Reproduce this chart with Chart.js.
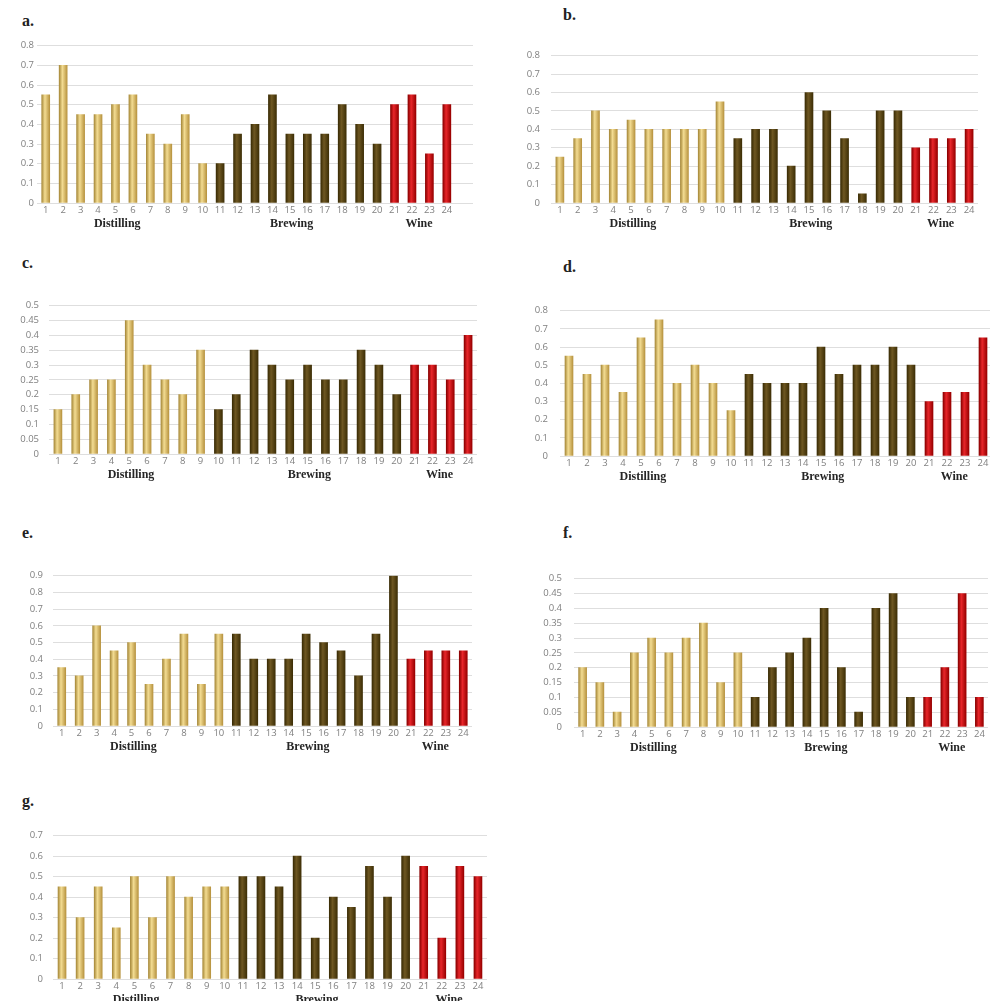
<!DOCTYPE html>
<html>
<head>
<meta charset="utf-8">
<script src="https://cdn.jsdelivr.net/npm/chart.js@4/dist/chart.umd.min.js"></script>
<style>
  html, body { margin:0; padding:0; background:#fff; }
  #page { position:relative; width:990px; height:1001px; overflow:hidden; background:#fff; }
  .tag { position:absolute; font-family:"Liberation Serif", "DejaVu Serif", serif; font-weight:bold; font-size:16px; line-height:16px; color:#222; }
  .box { position:absolute; }
</style>
</head>
<body>
<div id="page"></div>
<script>
// bar categories (1..24) and the three groups
const barLabels = ['1','2','3','4','5','6','7','8','9','10','11','12','13','14','15','16','17','18','19','20','21','22','23','24'];
const groupNames = ['Distilling', 'Brewing', 'Wine'];

// values
const valuesA = [0.55,0.7,0.45,0.45,0.5,0.55,0.35,0.3,0.45,0.2, 0.2,0.35,0.4,0.55,0.35,0.35,0.35,0.5,0.4,0.3, 0.5,0.55,0.25,0.5];
const valuesB = [0.25,0.35,0.5,0.4,0.45,0.4,0.4,0.4,0.4,0.55, 0.35,0.4,0.4,0.2,0.6,0.5,0.35,0.05,0.5,0.5, 0.3,0.35,0.35,0.4];
const valuesC = [0.15,0.2,0.25,0.25,0.45,0.3,0.25,0.2,0.35,0.15, 0.2,0.35,0.3,0.25,0.3,0.25,0.25,0.35,0.3,0.2, 0.3,0.3,0.25,0.4];
const valuesD = [0.55,0.45,0.5,0.35,0.65,0.75,0.4,0.5,0.4,0.25, 0.45,0.4,0.4,0.4,0.6,0.45,0.5,0.5,0.6,0.5, 0.3,0.35,0.35,0.65];
const valuesE = [0.35,0.3,0.6,0.45,0.5,0.25,0.4,0.55,0.25,0.55, 0.55,0.4,0.4,0.4,0.55,0.5,0.45,0.3,0.55,0.9, 0.4,0.45,0.45,0.45];
const valuesF = [0.2,0.15,0.05,0.25,0.3,0.25,0.3,0.35,0.15,0.25, 0.1,0.2,0.25,0.3,0.4,0.2,0.05,0.4,0.45,0.1, 0.1,0.2,0.45,0.1];
const valuesG = [0.45,0.3,0.45,0.25,0.5,0.3,0.5,0.4,0.45,0.45, 0.5,0.5,0.45,0.6,0.2,0.4,0.35,0.55,0.4,0.6, 0.55,0.2,0.55,0.5];

// axis tops and steps per panel
const panelNames = ['a.','b.','c.','d.','e.','f.','g.'];
const yMax  = [0.8, 0.8, 0.5, 0.8, 0.9, 0.5, 0.7];
const yStep = [0.1, 0.1, 0.05, 0.1, 0.1, 0.05, 0.1];
// last bar (1-based) drawn in the distilling colour
const distillLast = [10, 10, 9, 10, 10, 10, 10];
const brewLast = 20;

const allValues = [valuesA, valuesB, valuesC, valuesD, valuesE, valuesF, valuesG];

// layout: plot area box in page px, label position, y label gap, extra empty slots
const layout = [
  { l:37,  r:473, t:45,  b:203, tagX:22,  tagY:13,  gap:3,  extra:1 },
  { l:551, r:978, t:47,  b:203, tagX:563, tagY:7,   gap:11, extra:0 },
  { l:49,  r:477, t:298, b:454, tagX:22,  tagY:255, gap:10, extra:0 },
  { l:560, r:992, t:301, b:456, tagX:563, tagY:259, gap:12, extra:0 },
  { l:53,  r:472, t:568, b:726, tagX:22,  tagY:525, gap:10, extra:0 },
  { l:574, r:988, t:569, b:727, tagX:563, tagY:525, gap:12, extra:0 },
  { l:53,  r:487, t:828, b:979, tagX:22,  tagY:793, gap:10, extra:0 }
];
const groupPos = [4.1, 14.1, 21.4];

const Y_W = 44, PAD_T = 8, X_H = 30, BAR_W = 8;

const palette = {
  gold:  { edge:'#a88a3a', light:'#f3dc92', dark:'#b89440' },
  brown: { edge:'#3a2c05', light:'#6e5722', dark:'#3e2f06' },
  red:   { edge:'#8a0000', light:'#e8262a', dark:'#980000' }
};

function colourFor(p, i){
  if(i < distillLast[p]) return palette.gold;
  if(i < brewLast) return palette.brown;
  return palette.red;
}

function barFill(p){
  return (ctx) => {
    const chart = ctx.chart;
    const x = chart.scales.x;
    const c = colourFor(p, ctx.dataIndex);
    if(!x || !chart.chartArea) return c.light;
    const cx = x.getPixelForValue(ctx.dataIndex);
    const g = chart.ctx.createLinearGradient(cx - BAR_W/2, 0, cx + BAR_W/2, 0);
    g.addColorStop(0, c.edge);
    g.addColorStop(0.4, c.light);
    g.addColorStop(1, c.dark);
    return g;
  };
}

const groupLabels = {
  id:'groupLabels',
  afterDraw(chart){
    const x = chart.scales.x;
    const ctx = chart.ctx;
    ctx.save();
    ctx.font = 'bold 12px "Liberation Serif", "DejaVu Serif", serif';
    ctx.fillStyle = '#262626';
    ctx.textAlign = 'center';
    ctx.textBaseline = 'middle';
    groupNames.forEach((name, k) => {
      ctx.fillText(name, x.getPixelForValue(groupPos[k]), chart.chartArea.bottom + 21);
    });
    ctx.restore();
  }
};

const page = document.getElementById('page');

allValues.forEach((vals, p) => {
  const L = layout[p];
  const tag = document.createElement('div');
  tag.className = 'tag';
  tag.textContent = panelNames[p];
  tag.style.left = L.tagX + 'px';
  tag.style.top = L.tagY + 'px';
  page.appendChild(tag);

  const w = Y_W + (L.r - L.l);
  const h = PAD_T + (L.b - L.t) + X_H;
  const box = document.createElement('div');
  box.className = 'box';
  box.style.left = (L.l - Y_W) + 'px';
  box.style.top = (L.t - PAD_T) + 'px';
  box.style.width = w + 'px';
  box.style.height = h + 'px';
  const cv = document.createElement('canvas');
  cv.width = w; cv.height = h;
  box.appendChild(cv);
  page.appendChild(box);

  const labels = barLabels.concat(Array(L.extra).fill(''));

  new Chart(cv, {
    type:'bar',
    data:{
      labels,
      datasets:[{
        data: vals,
        backgroundColor: barFill(p),
        borderWidth: 0,
        barThickness: BAR_W
      }]
    },
    options:{
      responsive:false,
      animation:false,
      layout:{ padding:{ top:PAD_T, right:0, bottom:0, left:0 } },
      plugins:{ legend:{ display:false }, tooltip:{ enabled:false } },
      scales:{
        x:{
          grid:{ display:false, drawTicks:false },
          border:{ display:false },
          ticks:{ color:'#808080', font:{ family:'"Open Sans", sans-serif', size:9.5 }, padding:2, autoSkip:false, maxRotation:0 },
          afterFit(s){ s.height = X_H; }
        },
        y:{
          min:0, max:yMax[p],
          grid:{ color:'#dedede', lineWidth:1, drawTicks:false },
          border:{ display:false },
          ticks:{
            stepSize:yStep[p],
            color:'#808080',
            font:{ family:'"Open Sans", sans-serif', size:9.5 },
            padding:L.gap,
            callback:(v) => String(Number(v.toFixed(2)))
          },
          afterFit(s){ s.width = Y_W; }
        }
      }
    },
    plugins:[groupLabels]
  });
});
</script>
</body>
</html>
